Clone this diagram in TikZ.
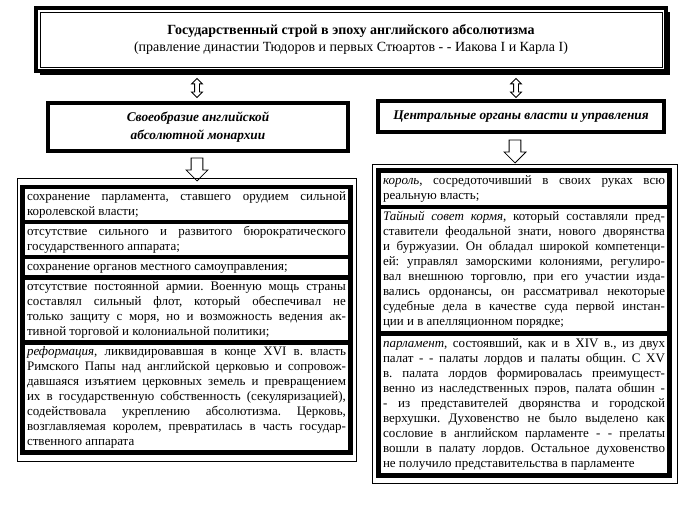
\documentclass[tikz,border=0pt]{standalone}
\usepackage{fontspec}
\setmainfont{Liberation Serif}
\usetikzlibrary{positioning,calc,shapes.arrows,shadows}
\frenchspacing

\tikzset{
  titlebox/.style={draw, line width=3pt, outer sep=0pt, fill=white,
    minimum width=472.5pt, minimum height=47.25pt, align=center,
    font=\fontsize{10.5}{12.5}\selectfont,
    drop shadow={shadow xshift=3pt, shadow yshift=-3pt, fill=black, opacity=1}},
  headbox/.style={draw, line width=3pt, outer sep=0pt, align=center,
    font=\fontsize{10}{13}\selectfont\bfseries\itshape},
  textbox/.style={draw, line width=3.5pt, outer sep=0pt, inner xsep=3.5pt,
    inner ysep=1.9pt, align=justify, font=\fontsize{9.75}{11.25}\selectfont,
    execute at begin node=\strut, execute at end node=\strut},
  leftbox/.style={textbox, text width=239.2pt},
  rightbox/.style={textbox, text width=211.5pt, inner ysep=2.5pt},
  holder/.style={line width=0.75pt},
  updown/.style={double arrow, draw, line width=0.6pt, rotate=90,
    inner xsep=0pt, inner ysep=1.5pt, minimum height=14.25pt,
    double arrow head extend=2.25pt},
  downarrow/.style={single arrow, draw, line width=0.6pt, rotate=-90,
    inner xsep=0pt, inner ysep=4.1pt, minimum height=17.25pt,
    single arrow head extend=3.8pt}
}

\begin{document}
\begin{tikzpicture}[x=0.75pt, y=-0.75pt]
    \useasboundingbox (0,0) rectangle (691,505);

    % заголовок
    \node[titlebox] (title) at (351,39.5)
        {{\bfseries Государственный строй в эпоху английского абсолютизма}\\
         (правление династии Тюдоров и первых Стюартов - - Иакова I и Карла I)};
    \draw[line width=0.6pt] ($(title.north west)+(4,4)$) rectangle ($(title.south east)+(-4,-4)$);

    % стрелки от заголовка
    \node[updown] (lup) at (197,88) {};
    \node[updown] (rup) at (516,88) {};

    % разделы
    \node[headbox, minimum width=225pt, minimum height=36pt] (lhead) at (198,127)
        {Своеобразие английской\\абсолютной монархии};
    \node[headbox, minimum width=214.5pt, minimum height=23.25pt] (rhead) at (521,116.5)
        {Центральные органы власти и управления};

    \node[downarrow] (ldown) at (197,166.5) {};
    \node[downarrow] (rdown) at (515,148.5) {};

    % левая колонка
    \node[leftbox, anchor=north] (l1) at (186.5,187)
        {сохранение парламента, ставшего орудием сильной \linebreak
         королевской власти;};
    \node[leftbox, below=0pt of l1] (l2)
        {отсутствие сильного и развитого бюрократического \linebreak
         государственного аппарата;};
    \node[leftbox, below=0pt of l2] (l3)
        {сохранение органов местного самоуправления;};
    \node[leftbox, below=0pt of l3] (l4)
        {отсутствие постоянной армии. Военную мощь страны \linebreak
         составлял сильный флот, который обеспечивал не \linebreak
         только защиту с моря, но и возможность ведения ак-\linebreak
         тивной торговой и колониальной политики;};
    \node[leftbox, below=0pt of l4] (l5)
        {\textit{реформация}, ликвидировавшая в конце XVI в. власть \linebreak
         Римского Папы над английской церковью и сопровож-\linebreak
         давшаяся изъятием церковных земель и превращением \linebreak
         их в государственную собственность (секуляризацией), \linebreak
         содействовала укреплению абсолютизма. Церковь, \linebreak
         возглавляемая королем, превратилась в часть государ-\linebreak
         ственного аппарата};
    \draw[holder] ($(l1.north west)+(-5.35,-8)$) rectangle ($(l5.south east)+(6.35,9.5)$);

    % правая колонка
    \node[rightbox, anchor=north] (r1) at (524,170.5)
        {\textit{король}, сосредоточивший в своих руках всю \linebreak
         реальную власть;};
    \node[rightbox, below=0pt of r1] (r2)
        {\textit{Тайный совет кормя}, который составляли пред-\linebreak
         ставители феодальной знати, нового дворянства \linebreak
         и буржуазии. Он обладал широкой компетенци-\linebreak
         ей: управлял заморскими колониями, регулиро-\linebreak
         вал внешнюю торговлю, при его участии изда-\linebreak
         вались ордонансы, он рассматривал некоторые \linebreak
         судебные дела в качестве суда первой инстан-\linebreak
         ции и в апелляционном порядке;};
    \node[rightbox, below=0pt of r2] (r3)
        {\textit{парламент}, состоявший, как и в XIV в., из двух \linebreak
         палат - - палаты лордов и палаты общин. С XV \linebreak
         в. палата лордов формировалась преимущест-\linebreak
         венно из наследственных пэров, палата обшин - \linebreak
         - из представителей дворянства и городской \linebreak
         верхушки. Духовенство не было выделено как \linebreak
         сословие в английском парламенте - - прелаты \linebreak
         вошли в палату лордов. Остальное духовенство \linebreak
         не получило представительства в парламенте};
    \draw[holder] ($(r1.north west)+(-5.35,-5.5)$) rectangle ($(r3.south east)+(7.35,7.5)$);
\end{tikzpicture}
\end{document}
